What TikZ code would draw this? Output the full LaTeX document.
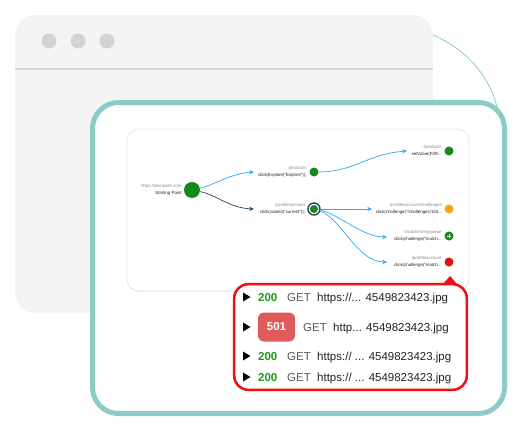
\documentclass[tikz,border=0pt]{standalone}
\usepackage{fontspec}
\setmainfont{Liberation Sans}
\usetikzlibrary{positioning,arrows.meta,shapes.geometric,shadows}
\definecolor{winfill}{HTML}{F4F4F4}
\definecolor{winrule}{HTML}{D6D6D6}
\definecolor{windot}{HTML}{D3D3D3}
\definecolor{tealframe}{HTML}{8BCBC8}
\definecolor{cardrule}{HTML}{E8E8E8}
\definecolor{nodegreen}{HTML}{14891A}
\definecolor{okgreen}{HTML}{1E9A1E}
\definecolor{skyblue}{HTML}{2EA8F4}
\definecolor{navy}{HTML}{2A4560}
\definecolor{amber}{HTML}{F7A31C}
\definecolor{errred}{HTML}{E3120F}
\definecolor{callred}{HTML}{F20F12}
\definecolor{badgered}{HTML}{E05B5B}
\definecolor{methgrey}{HTML}{5A5A5A}
\definecolor{urlgrey}{HTML}{222222}
\definecolor{pathgrey}{HTML}{8A8A8A}
\tikzset{
  pt/.style={circle, fill=#1, inner sep=0pt, minimum size=9pt},
  flow/.style={-{Stealth[length=4.8pt,width=4.2pt]}, line width=0.7pt, draw=skyblue},
  tag/.style={font=\fontsize{4.4}{7.4}\selectfont, align=right, inner sep=0pt, text=urlgrey},
  rowtxt/.style={font=\fontsize{11.5}{13}\selectfont, inner sep=0pt, anchor=base west, text=urlgrey},
  code/.style={rowtxt, font=\bfseries\fontsize{11.5}{13}\selectfont, text=okgreen},
  meth/.style={rowtxt, text=methgrey},
}

\begin{document}
\begin{tikzpicture}[x=1pt,y=-1pt]
  \useasboundingbox (0,0) rectangle (525,431);

  % browser window
  \fill[winfill, rounded corners=20pt] (15,15) rectangle (433,313);
  \draw[winrule, line width=1.5pt] (15,69) -- (433,69);
  \foreach \x in {49,78,107}
    \fill[windot] (\x,41) circle[radius=7.5pt];

  % link arc
  \coordinate (winarc) at (433,35);
  \coordinate (framearc) at (497,107);
  \draw[tealframe, line width=0.8pt] (winarc) .. controls (468,50) and (490,78) .. (framearc);

  % teal frame
  \draw[tealframe, fill=white, line width=5pt, rounded corners=26pt,
        drop shadow={opacity=0.12, shadow xshift=0pt, shadow yshift=-1.5pt}]
        (92.5,102.5) rectangle (504.5,413.5);

  % graph card
  \draw[cardrule, fill=white, line width=0.8pt, rounded corners=12pt,
        drop shadow={opacity=0.08, shadow xshift=0pt, shadow yshift=-1.2pt}]
        (127,129) rectangle (469,291);

  % graph nodes
  \node[pt=nodegreen, minimum size=16pt] (start) at (192,190) {};
  \node[pt=nodegreen] (prod) at (314,172) {};
  \node[circle, draw=navy, fill=white, line width=1.4pt, inner sep=0pt, minimum size=12pt] (profring) at (314,209) {};
  \node[pt=nodegreen, minimum size=8pt] (prof) at (314,209) {};
  \node[pt=nodegreen] (setv) at (449,151) {};
  \node[pt=amber] (chal) at (449,209) {};
  \node[pt=nodegreen, path picture={
          \draw[white, line width=1pt] ([xshift=-2.4pt]path picture bounding box.center) -- ([xshift=2.4pt]path picture bounding box.center);
          \draw[white, line width=1pt] ([yshift=-2.4pt]path picture bounding box.center) -- ([yshift=2.4pt]path picture bounding box.center);
        }] (queue) at (449,236) {};
  \node[pt=errred] (acct) at (449,262) {};

  % graph labels
  \node[tag, left=2pt of start] (startlbl) {{\color{pathgrey}https://demosite.com}\\Starting Point};
  \node[tag, left=2.5pt of prod] (prodlbl) {{\color{pathgrey}/products}\\click(Explore("Explore"));};
  \node[tag, left=2pt of profring] (proflbl) {{\color{pathgrey}/profile/account}\\click(submit("current"));};
  \node[tag, left=2.5pt of setv] (setvlbl) {{\color{pathgrey}/products}\\setValue(Fill9...};
  \node[tag, left=2pt of chal] (challbl) {{\color{pathgrey}/profile/account/challenges}\\click(challenge("/challenges/104...};
  \node[tag, left=2.5pt of queue] (queuelbl) {{\color{pathgrey}/matches/myqueue}\\click(challenge("match...};
  \node[tag, left=2.5pt of acct] (acctlbl) {{\color{pathgrey}/profile/account}\\click(challenge("match...};

  % graph edges
  \coordinate (prodin) at (254,172);
  \coordinate (profin) at (254,209);
  \coordinate (setvin) at (407,151);
  \coordinate (chalin) at (372,209);
  \coordinate (queuein) at (387,237);
  \coordinate (acctin) at (387,262);
  \draw[flow] (start) .. controls +(25,-6) and +(-25,2) .. (prodin);
  \draw[flow, draw=navy] (start) .. controls +(25,5) and +(-25,-1) .. (profin);
  \draw[flow] (prod) .. controls +(40,0) and +(-40,3) .. (setvin);
  \draw[flow] (profring) -- (chalin);
  \draw[flow] (profring) .. controls +(25,5) and +(-25,0) .. (queuein);
  \draw[flow] (profring) .. controls +(28,10) and +(-30,0) .. (acctin);

  % request callout
  \draw[callred, fill=white, line width=2.5pt, rounded corners=14pt] (234.2,284.2) rectangle (466.8,389.8);
  \fill[callred] (443,284) -- (450,276) -- (457,284) -- cycle;

  % row markers
  \foreach \y in {297,327,356,377}
    \fill[black] (243,\y-4.5) -- (250.5,\y) -- (243,\y+4.5) -- cycle;

  % request rows
  \node[code] (code1) at (258,301) {200};
  \node[meth] (meth1) at (287,301) {GET};
  \node[rowtxt] (url1) at (317,301) {https://... 4549823423.jpg};

  \node[fill=badgered, rounded corners=6pt, minimum width=37pt, minimum height=29pt, inner sep=0pt,
        text=white, font=\bfseries\fontsize{11.5}{13}\selectfont] (code2) at (276.5,327) {501};
  \node[meth] (meth2) at (303,331) {GET};
  \node[rowtxt] (url2) at (333,331) {http... 4549823423.jpg};

  \node[code] (code3) at (258,360) {200};
  \node[meth] (meth3) at (287,360) {GET};
  \node[rowtxt] (url3) at (317,360) {https:// ... 4549823423.jpg};

  \node[code] (code4) at (258,381) {200};
  \node[meth] (meth4) at (287,381) {GET};
  \node[rowtxt] (url4) at (317,381) {https:// ... 4549823423.jpg};
\end{tikzpicture}
\end{document}
